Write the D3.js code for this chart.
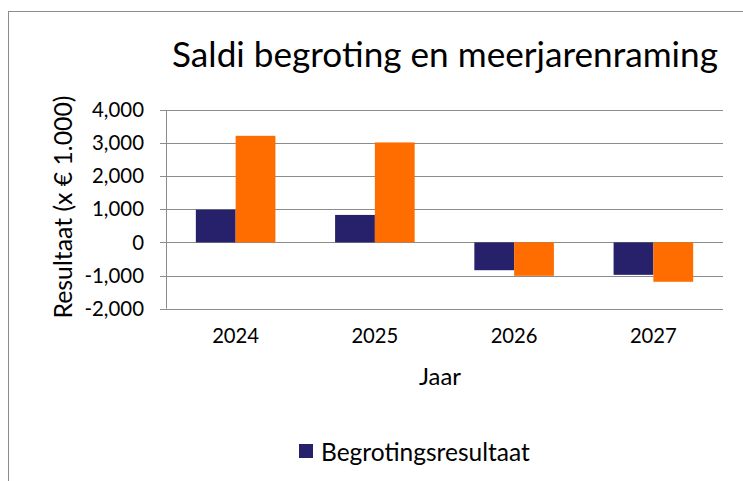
<!DOCTYPE html>
<html><head><meta charset="utf-8">
<script src="https://cdn.jsdelivr.net/npm/d3@7"></script>
<style>body{margin:0;background:#fff}svg{display:block}text{font-family:Lato,"Open Sans",sans-serif;fill:#000}</style>
</head><body><svg id="c" width="743" height="481"></svg>
<script>
const categories = ["2024","2025","2026","2027"];
const seriesNames = ["Begrotingsresultaat","Meerjarenraming"];
const begroting = [990, 830, -840, -980];
const raming = [3220, 3020, -1010, -1190];
const yTicks = [-2000,-1000,0,1000,2000,3000,4000];
const colors = ["#27216b","#ff6d00"];

const svg = d3.select("#c");
const W=743,H=481;
svg.append("rect").attr("x",8.5).attr("y",11.5).attr("width",W).attr("height",H).attr("fill","none").attr("stroke","#8c8c8c").attr("stroke-width",1);

const x0=166,x1=723,yTop=110,yBot=308.6;
const x = d3.scaleBand().domain(categories).range([x0,x1]).paddingInner(150/350).paddingOuter(75/350);
const xs = d3.scaleBand().domain(seriesNames).range([0,x.bandwidth()]);
const y = d3.scaleLinear().domain([-2000,4000]).range([yBot,yTop]);

svg.append("g").selectAll("line").data(yTicks).join("line")
 .attr("x1",x0-6).attr("x2",x1).attr("y1",d=>Math.round(y(d))+0.5).attr("y2",d=>Math.round(y(d))+0.5)
 .attr("stroke","#8c8c8c").attr("stroke-width",1);
svg.append("line").attr("x1",x0+0.5).attr("x2",x0+0.5).attr("y1",yTop).attr("y2",yBot).attr("stroke","#8c8c8c");

const data = categories.map((c,i)=>({c, vals:[begroting[i],raming[i]]}));
const g = svg.append("g");
data.forEach(d=>{
  d.vals.forEach((v,j)=>{
    g.append("rect")
     .attr("x",x(d.c)+xs(seriesNames[j]))
     .attr("width",xs.bandwidth())
     .attr("y",Math.min(y(v),y(0)))
     .attr("height",Math.abs(y(v)-y(0)))
     .attr("fill",colors[j]);
  });
});

function fitSize(text, base, target){
  const t = svg.append("text").style("font-size",base+"px").text(text);
  const w = t.node().getComputedTextLength(); t.remove();
  return base*target/w;
}
const fmt = d3.format(",");
const tickFmt = d=> d===0?"0":fmt(d).replace("\u2212","-");
const tickSize = fitSize("4,000",18,52);
svg.append("g").selectAll("text").data(yTicks).join("text")
 .attr("x",144).attr("y",d=>y(d)).attr("dy","0.35em").attr("text-anchor","end")
 .style("font-size",tickSize+"px").text(tickFmt);

const yearSize = fitSize("2024",18,47);
svg.append("g").selectAll("text").data(categories).join("text")
 .attr("x",d=>x(d)+x.bandwidth()/2).attr("y",336).attr("dy","0.35em").attr("text-anchor","middle")
 .style("font-size",yearSize+"px").text(d=>d);

svg.append("text").attr("x",440).attr("y",377).attr("dy","0.35em").attr("text-anchor","middle").style("font-size",fitSize("Jaar",20,42)+"px").text("Jaar");
const yl="Resultaat (x € 1.000)";
svg.append("text").attr("transform","translate(63,207) rotate(-90)").attr("dy","0.35em").attr("text-anchor","middle").style("font-size",fitSize(yl,20,223)+"px").text(yl);

const title="Saldi begroting en meerjarenraming";
svg.append("text").attr("x",445).attr("y",55).attr("dy","0.35em").attr("text-anchor","middle").style("font-size",fitSize(title,32,546)+"px").text(title);

svg.append("rect").attr("x",299).attr("y",444).attr("width",14).attr("height",14).attr("fill",colors[0]);
svg.append("text").attr("x",321).attr("y",452).attr("dy","0.35em").style("font-size",fitSize(seriesNames[0],20,209)+"px").text(seriesNames[0]);
</script></body></html>
